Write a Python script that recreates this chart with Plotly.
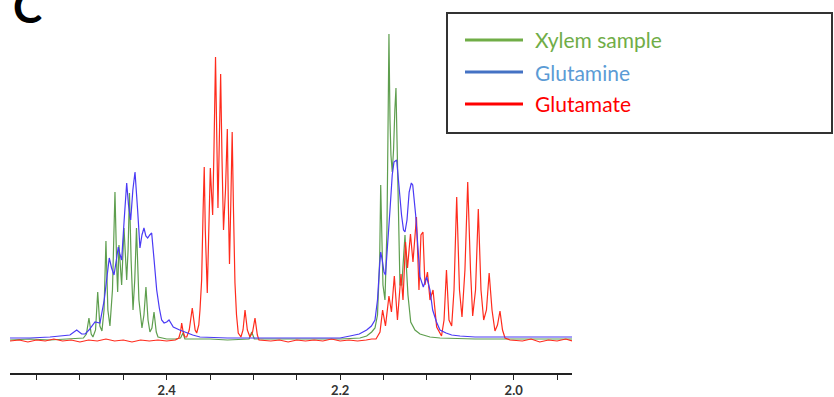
import plotly.graph_objects as go

# ---------------- data (ppm, arbitrary intensity) ----------------
xylem_ppm = [2.5806, 2.5576, 2.5345, 2.5115, 2.4960, 2.4925, 2.4896, 2.4870, 2.4850, 2.4820,
             2.4795, 2.4770, 2.4746, 2.4722, 2.4700, 2.4678, 2.4654, 2.4625, 2.4596, 2.4575,
             2.4565, 2.4550, 2.4535, 2.4519, 2.4492, 2.4475, 2.4461, 2.4445, 2.4429, 2.4410,
             2.4388, 2.4368, 2.4348, 2.4320, 2.4285, 2.4262, 2.4239, 2.4215, 2.4193, 2.4170,
             2.4146, 2.4120, 2.4100, 2.4000, 2.3900, 2.3840, 2.3812, 2.3790, 2.3500, 2.3300,
             2.3050, 2.3020, 2.2990, 2.2500, 2.2000, 2.1772, 2.1695, 2.1637, 2.1599, 2.1570,
             2.1545, 2.1533, 2.1520, 2.1507, 2.1484, 2.1461, 2.1450, 2.1438, 2.1426, 2.1415,
             2.1400, 2.1385, 2.1370, 2.1357, 2.1345, 2.1330, 2.1311, 2.1290, 2.1270, 2.1253,
             2.1235, 2.1219, 2.1187, 2.1138, 2.1080, 2.0965, 2.0850, 2.0446, 2.0000, 1.9328]
xylem_int = [0, 1, 0, 1, 2, 6, 22, 6, 3, 10,
             48, 14, 9, 30, 99, 30, 14, 50, 148, 70,
             48, 95, 70, 55, 112, 75, 60, 90, 147, 80,
             30, 60, 112, 40, 12, 25, 53, 20, 8, 12,
             28, 8, 3, 1, 1, 2, 7, 1, 1, 0,
             1, 8, 1, 1, 1, 2, 4, 8, 12, 25,
             80, 155, 90, 55, 40, 110, 200, 306, 220, 185,
             168, 190, 230, 252, 200, 130, 55, 55, 80, 105,
             70, 45, 18, 10, 6, 3, 2, 1, 1, 1]

glutamine_ppm = [2.5806, 2.5576, 2.5345, 2.5200, 2.5115, 2.5037, 2.4980, 2.4940, 2.4896, 2.4826,
                 2.4769, 2.4720, 2.4690, 2.4662, 2.4635, 2.4607, 2.4580, 2.4558, 2.4540, 2.4519,
                 2.4490, 2.4461, 2.4440, 2.4415, 2.4390, 2.4365, 2.4335, 2.4308, 2.4285, 2.4262,
                 2.4240, 2.4219, 2.4195, 2.4173, 2.4145, 2.4115, 2.4085, 2.4058, 2.4030, 2.4000,
                 2.3973, 2.3950, 2.3924, 2.3850, 2.3769, 2.3700, 2.3616, 2.3300, 2.3000, 2.2500,
                 2.2002, 2.1887, 2.1780, 2.1695, 2.1640, 2.1599, 2.1570, 2.1545, 2.1533, 2.1515,
                 2.1495, 2.1478, 2.1455, 2.1426, 2.1400, 2.1380, 2.1349, 2.1320, 2.1293, 2.1270,
                 2.1253, 2.1230, 2.1205, 2.1180, 2.1164, 2.1130, 2.1103, 2.1080, 2.1042, 2.1003,
                 2.0965, 2.0934, 2.0890, 2.0850, 2.0780, 2.0715, 2.0619, 2.0446, 2.0000, 1.9328]
glutamine_int = [2, 2, 3, 4, 5, 10, 6, 6, 10, 18,
                 17, 40, 65, 82, 72, 65, 80, 93, 86, 80,
                 120, 157, 135, 120, 150, 168, 130, 92, 105, 112,
                 104, 102, 105, 107, 80, 50, 32, 20, 17, 18,
                 20, 16, 13, 10, 7, 5, 3, 2, 2, 2,
                 2, 4, 6, 10, 14, 20, 40, 75, 88, 80,
                 68, 65, 90, 130, 165, 178, 180, 150, 125, 110,
                 108, 120, 148, 157, 155, 125, 95, 63, 53, 63,
                 50, 30, 18, 10, 7, 5, 4, 3, 3, 3]

glutamate_ppm = [2.5806, 2.5700, 2.5600, 2.5500, 2.5400, 2.5300, 2.5200, 2.5100, 2.5000, 2.4900,
                 2.4800, 2.4700, 2.4600, 2.4500, 2.4400, 2.4300, 2.4200, 2.4100, 2.4000, 2.3900,
                 2.3860, 2.3840, 2.3827, 2.3810, 2.3790, 2.3769, 2.3740, 2.3718, 2.3705, 2.3690,
                 2.3672, 2.3654, 2.3630, 2.3616, 2.3597, 2.3580, 2.3567, 2.3555, 2.3540, 2.3532,
                 2.3520, 2.3510, 2.3497, 2.3485, 2.3470, 2.3455, 2.3437, 2.3422, 2.3409, 2.3393,
                 2.3378, 2.3362, 2.3345, 2.3322, 2.3301, 2.3290, 2.3276, 2.3260, 2.3245, 2.3230,
                 2.3213, 2.3195, 2.3175, 2.3144, 2.3120, 2.3097, 2.3070, 2.3040, 2.3010, 2.2982,
                 2.2955, 2.2936, 2.2800, 2.2700, 2.2600, 2.2500, 2.2400, 2.2300, 2.2200, 2.2100,
                 2.2000, 2.1900, 2.1800, 2.1700, 2.1637, 2.1587, 2.1541, 2.1511, 2.1478, 2.1438,
                 2.1409, 2.1376, 2.1340, 2.1299, 2.1276, 2.1247, 2.1224, 2.1190, 2.1161, 2.1121,
                 2.1092, 2.1069, 2.1046, 2.1023, 2.0994, 2.0965, 2.0930, 2.0888, 2.0832, 2.0803,
                 2.0775, 2.0746, 2.0715, 2.0688, 2.0657, 2.0625, 2.0596, 2.0562, 2.0530, 2.0498,
                 2.0473, 2.0440, 2.0408, 2.0377, 2.0346, 2.0314, 2.0283, 2.0250, 2.0216, 2.0187,
                 2.0158, 2.0129, 2.0100, 2.0043, 1.9900, 1.9800, 1.9700, 1.9600, 1.9500, 1.9400,
                 1.9328]
glutamate_int = [-1, 0, -2, 0, -1, 1, -1, 0, -2, 0,
                 -1, 1, -1, 0, -2, 0, -1, 0, -1, 0,
                 2, 8, 17, 8, 3, 3, 10, 25, 32, 22,
                 10, 7, 15, 30, 60, 130, 173, 110, 60, 47,
                 90, 140, 172, 150, 125, 190, 283, 200, 132, 200,
                 266, 180, 110, 150, 211, 140, 76, 140, 208, 130,
                 57, 25, 7, 3, 10, 30, 10, 3, 8, 22,
                 5, 0, -1, 0, -2, 0, -1, 0, -1, 1,
                 -1, 0, -1, 0, 1, 1, 8, 30, 14, 44,
                 28, 64, 20, 66, 40, 98, 72, 106, 78, 123,
                 50, 105, 108, 55, 68, 40, 50, 13, 4, 20,
                 70, 20, 14, 50, 143, 50, 23, 70, 158, 70,
                 24, 50, 131, 50, 20, 30, 67, 30, 9, 15,
                 29, 10, 2, 0, -1, 1, -2, 0, -1, 1,
                 -1]

series_names = ["Xylem sample", "Glutamine", "Glutamate"]
trace_colors = ["#5E9E4E", "#4A3AF5", "#FF2B1C"]
legend_line_colors = ["#70AD47", "#4472C4", "#FF0000"]
legend_text_colors = ["#70AD47", "#5B9BD5", "#FF0000"]

tick_vals = [2.4, 2.2, 2.0]
tick_text = ["2.4", "2.2", "2.0"]

# ---------------- figure ----------------
fig = go.Figure()
for x, y, name, col in [
    (xylem_ppm, xylem_int, series_names[0], trace_colors[0]),
    (glutamate_ppm, glutamate_int, series_names[2], trace_colors[2]),
    (glutamine_ppm, glutamine_int, series_names[1], trace_colors[1]),
]:
    fig.add_trace(go.Scatter(x=x, y=y, mode="lines", name=name,
                             line=dict(color=col, width=1.2), showlegend=False))

W, H = 834, 397
ml, mr, mt, mb = 10, 262, 0, 24
pw, ph = W - ml - mr, H - mt - mb


def px(xp):
    return (xp - ml) / pw


def py(yp):
    return (H - mb - yp) / ph


shapes = [dict(type="rect", xref="paper", yref="paper",
               x0=px(447), x1=px(832), y0=py(133), y1=py(13),
               line=dict(color="#333333", width=2), fillcolor="rgba(0,0,0,0)")]
annotations = []
rows = [40, 72, 104]
for i, yy in enumerate(rows):
    shapes.append(dict(type="line", xref="paper", yref="paper",
                       x0=px(465), x1=px(523), y0=py(yy), y1=py(yy),
                       line=dict(color=legend_line_colors[i], width=3)))
    annotations.append(dict(text=series_names[i], xref="paper", yref="paper",
                            x=px(533), y=py(yy), xanchor="left", yanchor="middle",
                            showarrow=False,
                            font=dict(family="Lato", size=21, color=legend_text_colors[i])))

annotations.append(dict(text="<b>C</b>", xref="paper", yref="paper",
                        x=px(11), y=py(6), xanchor="left", yanchor="middle",
                        showarrow=False,
                        font=dict(family="Lato", size=44, color="#000000")))

fig.update_layout(
    width=W, height=H,
    margin=dict(l=ml, r=mr, t=mt, b=mb, autoexpand=False),
    plot_bgcolor="white", paper_bgcolor="white",
    shapes=shapes, annotations=annotations,
    xaxis=dict(range=[2.5806, 1.9328], showgrid=False, zeroline=False,
               showline=True, linecolor="#222222", linewidth=1.5,
               tickmode="array", tickvals=tick_vals, ticktext=tick_text,
               ticks="outside", ticklen=5, tickwidth=1.2, tickcolor="#222222",
               tickfont=dict(family="Lato", size=13, color="#333333", weight="bold"),
               minor=dict(ticks="outside", ticklen=5, tickwidth=1.2, tickcolor="#222222",
                          tick0=2.0, dtick=0.05, showgrid=False)),
    yaxis=dict(range=[-33, 340], visible=False, showgrid=False, zeroline=False),
)

fig.write_html("out.html", config={"displayModeBar": False},
               post_script="document.body.style.margin='0';document.body.style.overflow='hidden';")
